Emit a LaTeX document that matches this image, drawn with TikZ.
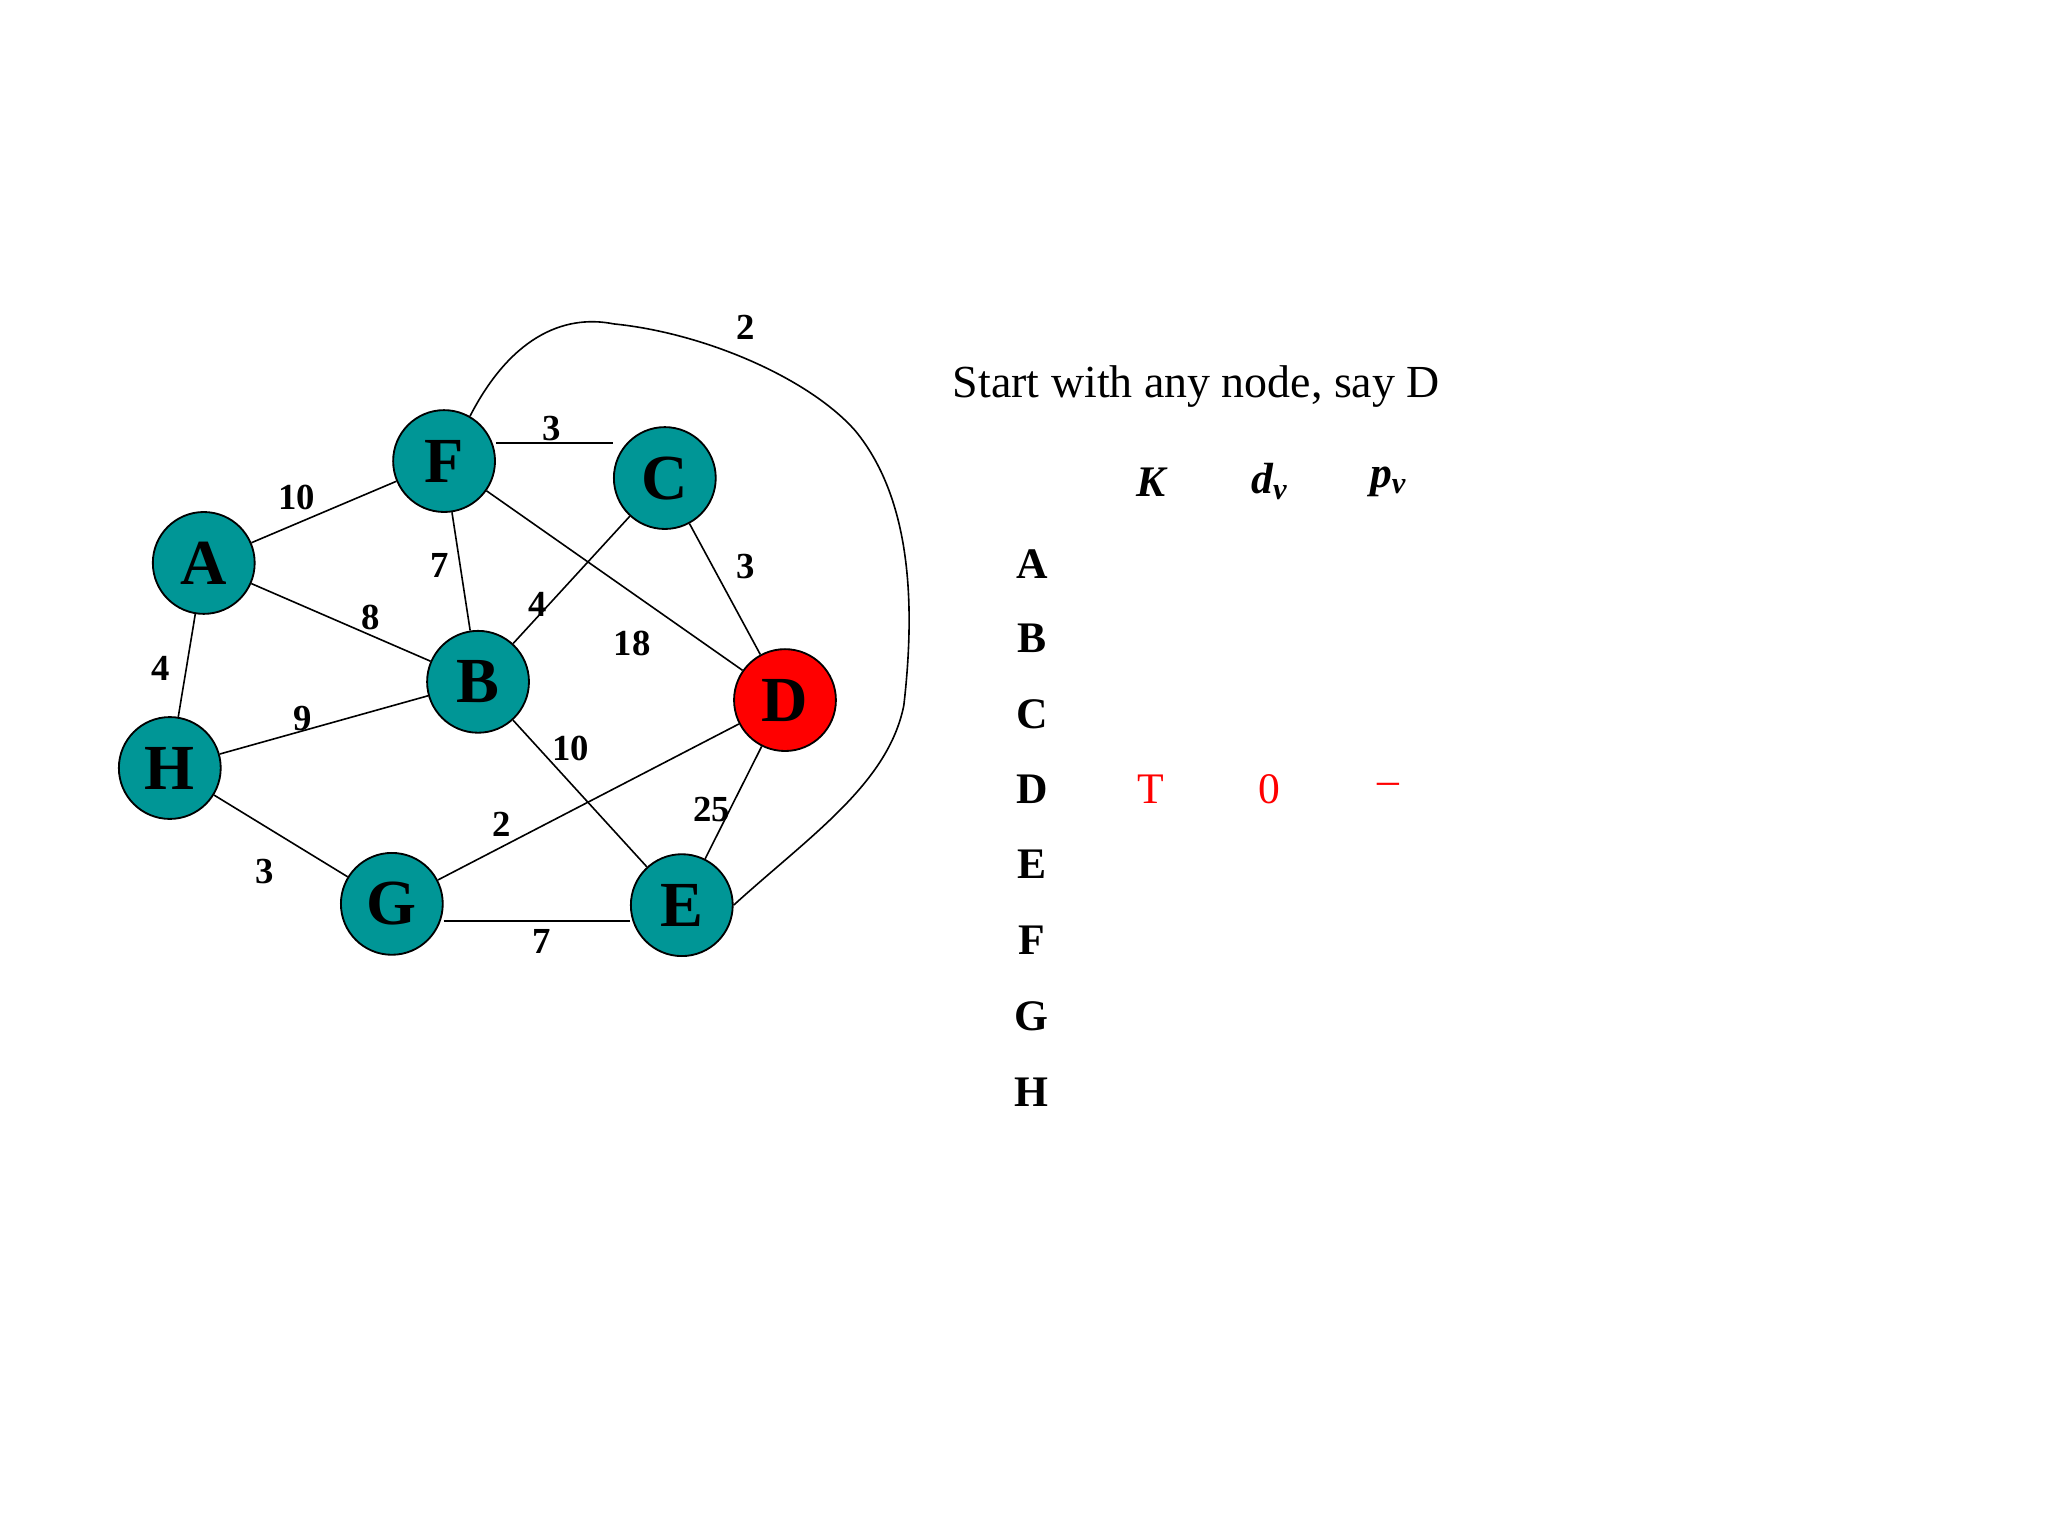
\documentclass[tikz,border=0pt]{standalone}
\usepackage{fontspec}
\setmainfont{Liberation Serif}
\begin{document}
\begin{tikzpicture}[x=0.02cm,y=-0.02cm,
  vtx/.style={circle,draw=black,thick,fill=teal1,minimum size=1.56cm,inner sep=0pt,font=\fontsize{28}{30}\selectfont\bfseries},
  wt/.style={font=\fontsize{16}{18}\selectfont\bfseries},
  edge/.style={draw=black,line width=0.7pt},
  rowl/.style={font=\fontsize{19}{21}\selectfont\bfseries},
  redv/.style={text=red,font=\fontsize{19}{21}\selectfont}]
\definecolor{teal1}{RGB}{0,150,150}
\useasboundingbox (0,0) rectangle (1568,1176);
\node[vtx] (F) at (340,353) {F};
\node[vtx] (C) at (509,366) {C};
\node[vtx] (A) at (156,431) {A};
\node[vtx] (B) at (366,522) {B};
\node[vtx,fill=red] (D) at (601,536) {D};
\node[vtx] (H) at (130,588) {H};
\node[vtx] (G) at (300,692) {G};
\node[vtx] (E) at (522,693) {E};
\begin{scope}[on background layer/.style={}]
\end{scope}
\draw[edge] (A) -- (F);
\draw[edge] (A) -- (B);
\draw[edge] (A) -- (H);
\draw[edge] (F.east |- 0,339) -- (C.west |- 0,339);
\draw[edge] (F) -- (B);
\draw[edge] (F) -- (D);
\draw[edge] (C) -- (B);
\draw[edge] (C) -- (D);
\draw[edge] (H) -- (B);
\draw[edge] (H) -- (G);
\draw[edge] (G) -- (D);
\draw[edge] (G.east |- 0,705) -- (E.west |- 0,705);
\draw[edge] (B) -- (E);
\draw[edge] (D) -- (E);
\draw[edge] (F.60) .. controls (390,260) and (430,240) .. (470,248)
  .. controls (540,255) and (620,290) .. (655,330)
  .. controls (700,385) and (700,470) .. (692,540)
  .. controls (680,600) and (620,640) .. (E.east);
\node[wt] at (227,381) {10};
\node[wt] at (284,473) {8};
\node[wt] at (123,512) {4};
\node[wt] at (422,328) {3};
\node[wt] at (337,433) {7};
\node[wt] at (412,463) {4};
\node[wt] at (484,493) {18};
\node[wt] at (571,434) {3};
\node[wt] at (232,550) {9};
\node[wt] at (437,573) {10};
\node[wt] at (384,631) {2};
\node[wt] at (545,620) {25};
\node[wt] at (203,667) {3};
\node[wt] at (415,721) {7};
\node[wt] at (571,251) {2};
\node[font=\fontsize{20}{22}\selectfont] (title) at (916,296) {Start with any node, say D};
\node[rowl] (hk) at (881,369) {\itshape K};
\node[rowl] (hd) at (972,369) {\itshape d\textsubscript{v}};
\node[rowl] (hp) at (1063,369) {\itshape p\textsubscript{v}};
\foreach \l/\y in {A/432,B/489,C/547,D/604,E/662,F/720,G/778,H/836}
  \node[rowl] (r\l) at (790,\y) {\l};
\node[redv] (dk) at (881,604) {T};
\node[redv] (dd) at (972,604) {0};
\node[redv] (dp) at (1063,604) {--};
\end{tikzpicture}
\end{document}
